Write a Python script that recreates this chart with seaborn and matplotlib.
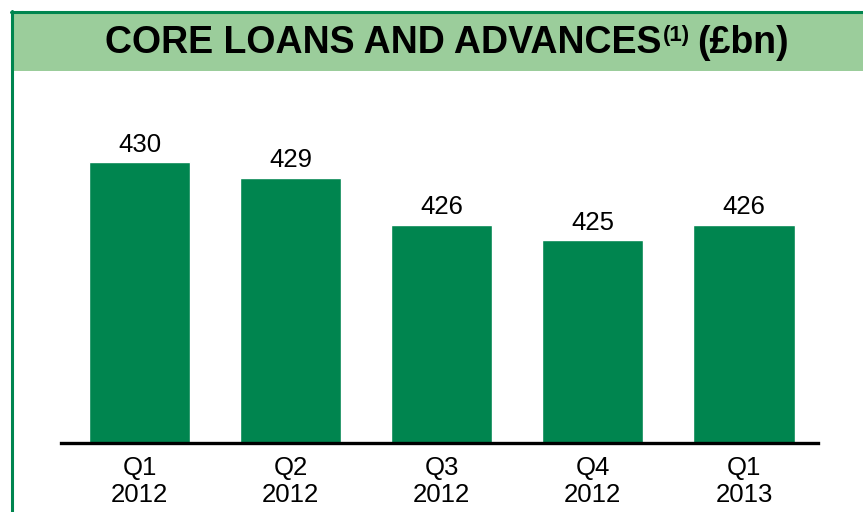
import matplotlib
matplotlib.use("Agg")
import matplotlib.pyplot as plt
import seaborn as sns
import pandas as pd
from matplotlib.patches import Rectangle

quarters = ["Q1\n2012", "Q2\n2012", "Q3\n2012", "Q4\n2012", "Q1\n2013"]
loans = [430, 429, 426, 425, 426]

bar_green = "#00854F"
band_green = "#9BCD9B"

sns.set_style("white")
plt.rcParams["font.family"] = ["Liberation Sans", "DejaVu Sans"]
plt.rcParams["text.color"] = "black"
plt.rcParams["xtick.color"] = "black"

W, H = 863, 512
fig = plt.figure(figsize=(W / 100, H / 100), dpi=100)

# title band and green frame
fig.patches.append(Rectangle((13 / W, 1 - 71 / H), 1, 59 / H, transform=fig.transFigure,
                             facecolor=band_green, edgecolor="none", zorder=0))
fig.add_artist(plt.Line2D([11 / W, 1], [1 - 11.5 / H] * 2, color=bar_green, lw=2.2))
fig.add_artist(plt.Line2D([12 / W] * 2, [0, 1 - 10.5 / H], color=bar_green, lw=2.2))

ax = fig.add_axes([61 / W, 1 - 443 / H, 757 / W, 343 / H])
df = pd.DataFrame({"quarter": quarters, "loans": loans})
sns.barplot(data=df, x="quarter", y="loans", color=bar_green, saturation=1,
            width=0.67, ax=ax)
ax.set_ylim(412, 434)
ax.set_xlim(-0.52, 4.49)
ax.bar_label(ax.containers[0], labels=[str(v) for v in loans], fontsize=18.5,
             padding=4, color="black")

for side in ["top", "right", "left"]:
    ax.spines[side].set_visible(False)
ax.spines["bottom"].set_linewidth(2.4)
ax.spines["bottom"].set_color("black")
ax.set_yticks([])
ax.set_xlabel("")
ax.set_ylabel("")
ax.tick_params(axis="x", length=0, pad=9, labelsize=18.5, labelcolor="black")
for lbl in ax.get_xticklabels():
    lbl.set_linespacing(1.2)

# title with superscript
base_y = 1 - 53 / H
t1 = fig.text(105 / W, base_y, "CORE LOANS AND ADVANCES", fontsize=27,
              fontweight="bold", va="baseline", ha="left")
fig.canvas.draw()
r = fig.canvas.get_renderer()
bb = t1.get_window_extent(r)
t2 = fig.text((bb.x1 + 1) / W, 1 - 41 / H, "(1)", fontsize=16,
              fontweight="bold", va="baseline", ha="left")
bb2 = t2.get_window_extent(r)
fig.text((bb2.x1 + 7) / W, base_y, "(£bn)", fontsize=27,
         fontweight="bold", va="baseline", ha="left")

fig.savefig("out.png", dpi=100)
